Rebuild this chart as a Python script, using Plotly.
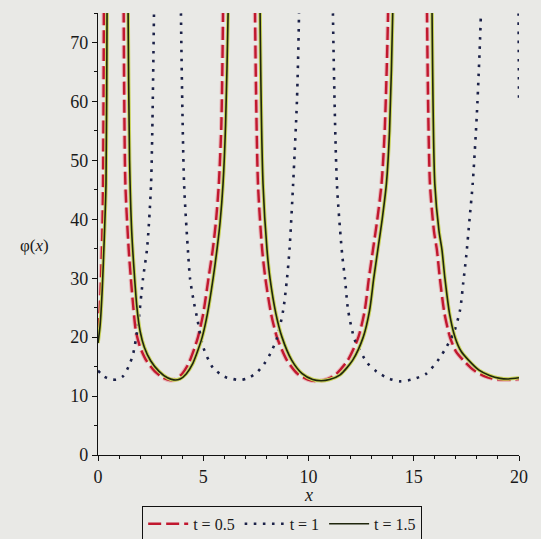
import plotly.graph_objects as go

# phi(x) sampled along each branch; None splits the branches at the poles
T05_X = [0.0, 0.1, 0.2, 0.24, 0.28, 0.30, None,
         1.20, 1.22, 1.30, 1.46, 1.56, 1.68, 1.80, 2.00, 2.30, 2.70, 3.10, 3.40, 3.70, 4.00, 4.30, 4.55, 4.75, 5.00, 5.25, 5.45, 5.60, 5.74, 5.86, 5.94, 5.97, None,
         7.44, 7.46, 7.60, 7.80, 7.95, 8.22, 8.50, 8.97, 9.47, 9.97, 10.37, 10.77, 11.27, 11.87, 12.37, 12.67, 12.87, 13.07, 13.27, 13.47, 13.62, 13.78, 13.81, None,
         15.61, 15.63, 15.77, 15.96, 16.10, 16.24, 16.46, 16.72, 17.00, 17.35, 17.85, 18.35, 18.85, 19.30, 19.70, 20.0]
T05_Y = [21, 26, 37, 46, 75, 100, None,
         100, 75, 46, 34.8, 30, 25, 21, 18.3, 16, 14.2, 13.1, 12.7, 12.85, 13.8, 15.5, 17.8, 20, 24, 30, 34.8, 39.5, 46, 56, 75, 90, None,
         100, 75, 46, 34.8, 30, 24, 20, 16.1, 13.8, 12.8, 12.55, 12.75, 13.6, 16.1, 20, 24.5, 30, 35, 40, 46, 55, 75, 95, None,
         100, 75, 46, 38, 34.8, 30, 24, 20, 17.6, 16.1, 14.4, 13.4, 12.9, 12.75, 12.8, 12.9]

T1_X = [0.0, 0.3, 0.6, 0.9, 1.2, 1.45, 1.66, 1.90, 2.14, 2.33, 2.52, 2.66, 2.70, None,
        3.91, 3.94, 4.09, 4.28, 4.37, 4.55, 4.70, 5.00, 5.46, 6.00, 6.40, 6.75, 7.10, 7.55, 7.90, 8.20, 8.50, 8.80, 8.98, 9.10, 9.27, 9.45, 9.55, 9.58, None,
        11.13, 11.16, 11.35, 11.60, 11.73, 11.88, 12.20, 12.80, 13.25, 13.80, 14.35, 14.90, 15.60, 16.20, 16.50, 16.90, 17.20, 17.35, 17.50, 17.65, 17.80, 18.00, 18.19, 18.22, None,
        19.96, 19.98, 20.0]
T1_Y = [14.3, 13.3, 12.85, 12.8, 13.4, 15, 17, 22, 30, 35, 46, 75, 90, None,
        95, 75, 46, 34.3, 30, 26, 23.4, 18.3, 14.8, 13.3, 12.9, 12.7, 13.0, 14.0, 15.5, 17.3, 19.8, 24.6, 30, 35, 46, 60, 75, 90, None,
        95, 75, 46, 34, 30, 24.6, 19.5, 15.6, 14.1, 13.0, 12.5, 12.8, 13.8, 16.3, 18.0, 20.7, 24.6, 29.2, 34, 40, 46, 58, 75, 90, None,
        95, 75, 60]

T15_X = [0.0, 0.1, 0.2, 0.3, 0.38, 0.43, 0.45, None,
         1.41, 1.43, 1.50, 1.60, 1.72, 1.85, 2.00, 2.20, 2.50, 2.90, 3.30, 3.60, 3.90, 4.20, 4.50, 4.75, 4.95, 5.20, 5.47, 5.65, 5.80, 5.94, 6.06, 6.18, 6.22, None,
         7.68, 7.70, 7.84, 8.03, 8.17, 8.45, 8.74, 9.20, 9.70, 10.20, 10.60, 11.00, 11.50, 12.10, 12.60, 12.90, 13.10, 13.30, 13.50, 13.70, 13.85, 14.00, 14.03, None,
         15.85, 15.87, 16.00, 16.20, 16.34, 16.48, 16.70, 16.96, 17.25, 17.60, 18.10, 18.60, 19.10, 19.50, 20.0]
T15_Y = [19, 22, 28, 37, 46, 75, 100, None,
         100, 75, 50, 38, 31, 25, 21, 18.3, 16, 14.2, 13.1, 12.75, 12.9, 13.8, 15.5, 17.8, 20, 24, 30, 34.8, 39.5, 46, 56, 75, 90, None,
         100, 75, 46, 34.8, 30, 24, 20, 16.1, 13.8, 12.8, 12.6, 12.8, 13.6, 16.1, 20, 24.5, 30, 35, 40, 46, 55, 75, 95, None,
         100, 75, 46, 38, 34.8, 30, 24, 20, 17.6, 16.1, 14.4, 13.5, 13.0, 12.9, 13.1]

LABELS = ["t = 0.5", "t = 1", "t = 1.5"]
X_TICKS = [0, 5, 10, 15, 20]
Y_TICKS = [0, 10, 20, 30, 40, 50, 60, 70]

BG = "#e9e9e6"
SERIF = "Liberation Serif"

fig = go.Figure()

# t = 0.5 : red dashed with a faint pink halo
fig.add_trace(go.Scatter(x=T05_X, y=T05_Y, mode="lines", showlegend=False, hoverinfo="skip",
                         line=dict(color="rgba(230,140,150,0.55)", width=4.5, dash="13px,5px", shape="spline", smoothing=0.7)))
fig.add_trace(go.Scatter(x=T05_X, y=T05_Y, mode="lines", name=LABELS[0],
                         line=dict(color="#c1182f", width=2.4, dash="13px,5px", shape="spline", smoothing=0.7)))

# t = 1 : dark blue dotted
fig.add_trace(go.Scatter(x=T1_X, y=T1_Y, mode="lines", name=LABELS[1],
                         line=dict(color="#1b2148", width=2.6, dash="2.6px,6.5px", shape="spline", smoothing=0.7)))

# t = 1.5 : dark line with a yellow-green edge
fig.add_trace(go.Scatter(x=T15_X, y=T15_Y, mode="lines", showlegend=False, hoverinfo="skip",
                         line=dict(color="#c9d35a", width=3.6, shape="spline", smoothing=0.7)))
fig.add_trace(go.Scatter(x=T15_X, y=T15_Y, mode="lines", name=LABELS[2],
                         line=dict(color="#1f260c", width=1.6, shape="spline", smoothing=0.7)))

axis_common = dict(
    showgrid=False, zeroline=False, showline=True, linecolor="#111", linewidth=1.4,
    ticks="outside", ticklen=5, tickwidth=1.2, tickcolor="#111",
    tickfont=dict(family=SERIF, size=18, color="#1a1a1a"),
)

fig.update_xaxes(range=[0, 20], tickvals=X_TICKS, ticktext=[str(v) for v in X_TICKS],
                 minor=dict(dtick=1, ticklen=3, tickcolor="#111", ticks="outside"),
                 **axis_common)
fig.update_yaxes(range=[0, 75], tickvals=Y_TICKS, ticktext=[str(v) for v in Y_TICKS],
                 minor=dict(dtick=5, ticklen=3, tickcolor="#111", ticks="outside"),
                 **axis_common)

fig.add_annotation(text="<i>x</i>", x=10, xref="x", y=-0.09, yref="paper", yanchor="middle",
                   showarrow=False, font=dict(family=SERIF, size=18, color="#1a1a1a"))
fig.add_annotation(text="φ(<i>x</i>)", x=-0.19, xref="paper", y=0.475, yref="paper",
                   showarrow=False, font=dict(family=SERIF, size=17, color="#1a1a1a"))

fig.update_layout(
    width=541, height=539, autosize=False,
    margin=dict(l=98, r=22, t=13, b=84),
    paper_bgcolor=BG, plot_bgcolor=BG,
    legend=dict(orientation="h", x=0.437, xanchor="center",
                y=0.062, yref="container", yanchor="top",
                bgcolor=BG, bordercolor="#111", borderwidth=1.2,
                font=dict(family=SERIF, size=16, color="#1a1a1a"),
                itemwidth=40, tracegroupgap=0),
)

fig.write_html("out.html")
